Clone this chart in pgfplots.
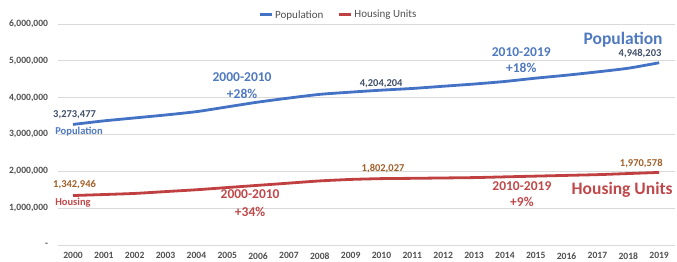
\documentclass[border=0pt]{standalone}
\usepackage{pgfplots}
\pgfplotsset{compat=1.18}
\usepackage{fontspec}
\setmainfont{Carlito}
\definecolor{popblue}{RGB}{68,114,196}
\definecolor{popann}{RGB}{79,121,192}
\definecolor{popval}{RGB}{64,80,105}
\definecolor{housred}{RGB}{192,64,66}
\definecolor{housann}{RGB}{192,72,74}
\definecolor{housval}{RGB}{160,95,40}
\definecolor{gridgray}{RGB}{217,217,217}
\definecolor{tickgray}{RGB}{80,80,80}
\begin{document}
\begin{tikzpicture}
\path[use as bounding box] (-57.6pt,-17pt) rectangle (619.4pt,245pt);
\begin{axis}[
  at={(0,0)}, anchor=south west,
  scale only axis, width=617pt, height=221pt,
  xmin=1999.5, xmax=2019.5, ymin=0, ymax=6000000,
  scaled y ticks=false,
  axis line style={draw=none},
  major tick length=0pt,
  xtick={2000,...,2019},
  xticklabels={2000,2001,2002,2003,2004,2005,2006,2007,2008,2009,2010,2011,2012,2013,2014,2015,2016,2017,2018,2019},
  ytick={0,1000000,2000000,3000000,4000000,5000000,6000000},
  yticklabels={{-},{1,000,000},{2,000,000},{3,000,000},{4,000,000},{5,000,000},{6,000,000}},
  ymajorgrids, grid style={gridgray, line width=0.8pt},
  tick label style={font=\bfseries\fontsize{9.6}{10}\selectfont, text=tickgray},
  yticklabel style={xshift=-6pt},
  xticklabel style={yshift=-4pt},
  legend style={at={(0.455,1.041)}, anchor=center, draw=none, fill=none,
    legend columns=2, font=\fontsize{11}{12}\selectfont, text=tickgray,
    /tikz/every even column/.append style={column sep=12pt}},
  legend image code/.code={\draw[#1, line width=3pt] (0pt,0pt) -- (12pt,0pt);},
  clip=false,
]
\addplot[popblue, line width=2.8pt, smooth, tension=0.4] coordinates {
(2000,3273477) (2001,3370000) (2002,3450000) (2003,3530000) (2004,3620000)
(2005,3750000) (2006,3880000) (2007,3990000) (2008,4090000) (2009,4150000)
(2010,4204204) (2011,4250000) (2012,4310000) (2013,4370000) (2014,4440000)
(2015,4530000) (2016,4610000) (2017,4700000) (2018,4800000) (2019,4948203)};
\addlegendentry{Population}
\addplot[housred, line width=2.8pt, smooth, tension=0.4] coordinates {
(2000,1342946) (2001,1370000) (2002,1400000) (2003,1450000) (2004,1500000)
(2005,1560000) (2006,1620000) (2007,1680000) (2008,1740000) (2009,1780000)
(2010,1802027) (2011,1810000) (2012,1820000) (2013,1830000) (2014,1850000)
(2015,1870000) (2016,1890000) (2017,1910000) (2018,1940000) (2019,1970578)};
\addlegendentry{Housing Units}
% population annotations
\node[font=\bfseries\fontsize{10.5}{11}\selectfont, text=popval] at (axis cs:2000.05,3540000) {3,273,477};
\node[font=\bfseries\fontsize{10.5}{11}\selectfont, text=popann, anchor=west, inner sep=0pt] at (axis cs:1999.42,3080000) {Population};
\node[font=\bfseries\fontsize{13.5}{14}\selectfont, text=popann] at (axis cs:2005.48,4570000) {2000-2010};
\node[font=\bfseries\fontsize{13.5}{14}\selectfont, text=popann] at (axis cs:2005.48,4110000) {+28\%};
\node[font=\bfseries\fontsize{10.5}{11}\selectfont, text=popval] at (axis cs:2009.99,4380000) {4,204,204};
\node[font=\bfseries\fontsize{13.5}{14}\selectfont, text=popann] at (axis cs:2014.53,5240000) {2010-2019};
\node[font=\bfseries\fontsize{13.5}{14}\selectfont, text=popann] at (axis cs:2014.53,4810000) {+18\%};
\node[font=\bfseries\fontsize{17.5}{18}\selectfont, text=popann] at (axis cs:2017.83,5570000) {Population};
\node[font=\bfseries\fontsize{10.5}{11}\selectfont, text=popval] at (axis cs:2018.38,5190000) {4,948,203};
% housing annotations
\node[font=\bfseries\fontsize{10.5}{11}\selectfont, text=housval] at (axis cs:2000.05,1650000) {1,342,946};
\node[font=\bfseries\fontsize{10.5}{11}\selectfont, text=housann, anchor=west, inner sep=0pt] at (axis cs:1999.42,1140000) {Housing};
\node[font=\bfseries\fontsize{13.5}{14}\selectfont, text=housann] at (axis cs:2005.74,1380000) {2000-2010};
\node[font=\bfseries\fontsize{13.5}{14}\selectfont, text=housann] at (axis cs:2005.74,890000) {+34\%};
\node[font=\bfseries\fontsize{10.5}{11}\selectfont, text=housval] at (axis cs:2010.05,2080000) {1,802,027};
\node[font=\bfseries\fontsize{13.5}{14}\selectfont, text=housann] at (axis cs:2014.55,1590000) {2010-2019};
\node[font=\bfseries\fontsize{13.5}{14}\selectfont, text=housann] at (axis cs:2014.55,1160000) {+9\%};
\node[font=\bfseries\fontsize{17.5}{18}\selectfont, text=housann] at (axis cs:2017.8,1510000) {Housing Units};
\node[font=\bfseries\fontsize{10.5}{11}\selectfont, text=housval] at (axis cs:2018.42,2220000) {1,970,578};
\end{axis}
\end{tikzpicture}
\end{document}
